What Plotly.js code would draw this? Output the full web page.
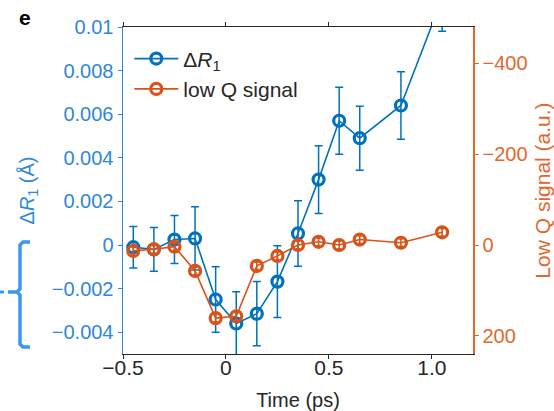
<!DOCTYPE html>
<html>
<head>
<meta charset="utf-8">
<script src="https://cdn.plot.ly/plotly-3.0.1.min.js"></script>
<style>
html,body{margin:0;padding:0;background:#fff;}
#chart{width:554px;height:411px;}
</style>
</head>
<body>
<div id="chart"></div>
<script>
// ---- data ----
const timePs = [-0.45, -0.35, -0.25, -0.15, -0.05, 0.05, 0.15, 0.25, 0.35, 0.45, 0.55, 0.65, 0.85, 1.05];
const deltaR1 = [-0.0001, -0.0002, 0.00025, 0.0003, -0.0025, -0.0036, -0.00315, -0.00168, 0.00053, 0.0030, 0.0057, 0.0049, 0.0064, 0.0113];
const deltaR1Err = [0.00095, 0.0010, 0.0011, 0.00145, 0.0015, 0.00145, 0.00147, 0.00164, 0.0015, 0.00155, 0.00154, 0.00147, 0.00155, 0.0015];
const lowQ = [13, 9.5, 3.7, 57, 161, 157, 46, 24, 0, -7, 0, -12, -5, -28];
const lowQErr = [8, 8, 8, 8, 8, 8, 8, 8, 8, 8, 8, 8, 8, 8];

const xTickVals = [-0.5, 0, 0.5, 1.0];
const xTickText = ['\u22120.5', '0', '0.5', '1.0'];
const yTickVals = [-0.004, -0.002, 0, 0.002, 0.004, 0.006, 0.008, 0.01];
const yTickText = ['\u22120.004', '\u22120.002', '0', '0.002', '0.004', '0.006', '0.008', '0.01'];
const y2TickVals = [-400, -200, 0, 200];
const y2TickText = ['\u2212400', '\u2212200', '0', '200'];

// ---- styling ----
const BLUE = '#0072BD';
const BLUE_TXT = '#2f88d4';
const ORANGE = '#D95319';
const ORANGE_TXT = '#e2672f';
const FONT = 'Liberation Sans, Arial, sans-serif';

const W = 554, H = 411;
const M = {l: 123, r: 81, t: 27, b: 57};
const pw = W - M.l - M.r, ph = H - M.t - M.b;
function px(x){ return (x - M.l) / pw; }
function py(y){ return (H - M.b - y) / ph; }

const blueTrace = {
  x: timePs, y: deltaR1, name: '\u0394<i>R</i><sub>1</sub>',
  type: 'scatter', mode: 'lines+markers',
  line: {color: BLUE, width: 1.6},
  marker: {symbol: 'circle-open', size: 11, color: BLUE, line: {width: 3.2, color: BLUE}},
  error_y: {type: 'data', array: deltaR1Err, visible: true, color: BLUE, thickness: 1.5, width: 4},
  yaxis: 'y', cliponaxis: true
};
const orangeTrace = {
  x: timePs, y: lowQ, name: 'low Q signal',
  type: 'scatter', mode: 'lines+markers',
  line: {color: ORANGE, width: 1.6},
  marker: {symbol: 'circle-open', size: 11, color: ORANGE, line: {width: 3.2, color: ORANGE}},
  error_y: {type: 'data', array: lowQErr, visible: true, color: ORANGE, thickness: 1.5, width: 2},
  yaxis: 'y2', cliponaxis: true
};

// decorative bracket at far left of the reference
const bp = [
  ['M', 30, 242], ['L', 23, 242], ['L', 20, 245], ['L', 20, 289], ['L', 17, 292],
  ['L', 20, 295], ['L', 20, 344], ['L', 23, 347], ['L', 30, 347]
];
const bracketPath = bp.map(p => p[0] + ' ' + px(p[1]).toFixed(4) + ',' + py(p[2]).toFixed(4)).join(' ');
const nubPath = 'M ' + px(17).toFixed(4) + ',' + py(292).toFixed(4) + ' L ' + px(8).toFixed(4) + ',' + py(292).toFixed(4);
const dotPath = 'M ' + px(0).toFixed(4) + ',' + py(292).toFixed(4) + ' L ' + px(4).toFixed(4) + ',' + py(292).toFixed(4);

const layout = {
  width: W, height: H,
  margin: M,
  paper_bgcolor: '#fff', plot_bgcolor: '#fff',
  font: {family: FONT, size: 20, color: '#262626'},
  showlegend: true,
  legend: {
    x: 0.018, y: 0.965, xanchor: 'left', yanchor: 'top',
    bgcolor: 'rgba(255,255,255,0)', borderwidth: 0,
    font: {family: FONT, size: 21, color: '#262626'},
    itemwidth: 44, tracegroupgap: 0
  },
  xaxis: {
    range: [-0.5, 1.2],
    tickvals: xTickVals, ticktext: xTickText,
    ticks: 'outside', ticklen: 4, tickwidth: 1, tickcolor: '#262626',
    showline: true, linecolor: '#262626', linewidth: 1.3, mirror: 'ticks',
    showgrid: false, zeroline: false,
    ticklabelstandoff: -10,
    tickfont: {family: FONT, size: 21, color: '#262626'},
    title: {text: 'Time (ps)', font: {family: FONT, size: 20, color: '#262626'}, standoff: 16}
  },
  yaxis: {
    range: [-0.005, 0.01],
    tickvals: yTickVals, ticktext: yTickText,
    ticks: 'outside', ticklen: 4, tickwidth: 1, tickcolor: BLUE_TXT,
    showline: true, linecolor: BLUE_TXT, linewidth: 1.5,
    showgrid: false, zeroline: false,
    tickfont: {family: FONT, size: 20, color: BLUE_TXT},
    title: {text: '\u0394<i>R</i><sub>1</sub> (\u00c5)', font: {family: FONT, size: 20, color: BLUE_TXT}, standoff: 12}
  },
  yaxis2: {
    overlaying: 'y', side: 'right',
    range: [240, -480],
    tickvals: y2TickVals, ticktext: y2TickText,
    ticks: 'outside', ticklen: 4, tickwidth: 1, tickcolor: ORANGE_TXT,
    showline: true, linecolor: ORANGE_TXT, linewidth: 1.5,
    showgrid: false, zeroline: false,
    tickfont: {family: FONT, size: 20, color: ORANGE_TXT},
    title: {text: 'Low Q signal (a.u.)', font: {family: FONT, size: 21, color: ORANGE_TXT}, standoff: 14}
  },
  annotations: [{
    text: '<b>e</b>', xref: 'paper', yref: 'paper',
    x: px(24.5), y: py(18), xanchor: 'center', yanchor: 'middle',
    showarrow: false, font: {family: FONT, size: 21, color: '#000'}
  }],
  shapes: [
    {type: 'path', xref: 'paper', yref: 'paper', path: bracketPath, line: {color: '#3b97f5', width: 3.5}},
    {type: 'path', xref: 'paper', yref: 'paper', path: nubPath, line: {color: '#3b97f5', width: 3.5}},
    {type: 'path', xref: 'paper', yref: 'paper', path: dotPath, line: {color: '#3b97f5', width: 3}}
  ]
};

Plotly.newPlot('chart', [blueTrace, orangeTrace], layout, {displayModeBar: false, staticPlot: true});
</script>
</body>
</html>
